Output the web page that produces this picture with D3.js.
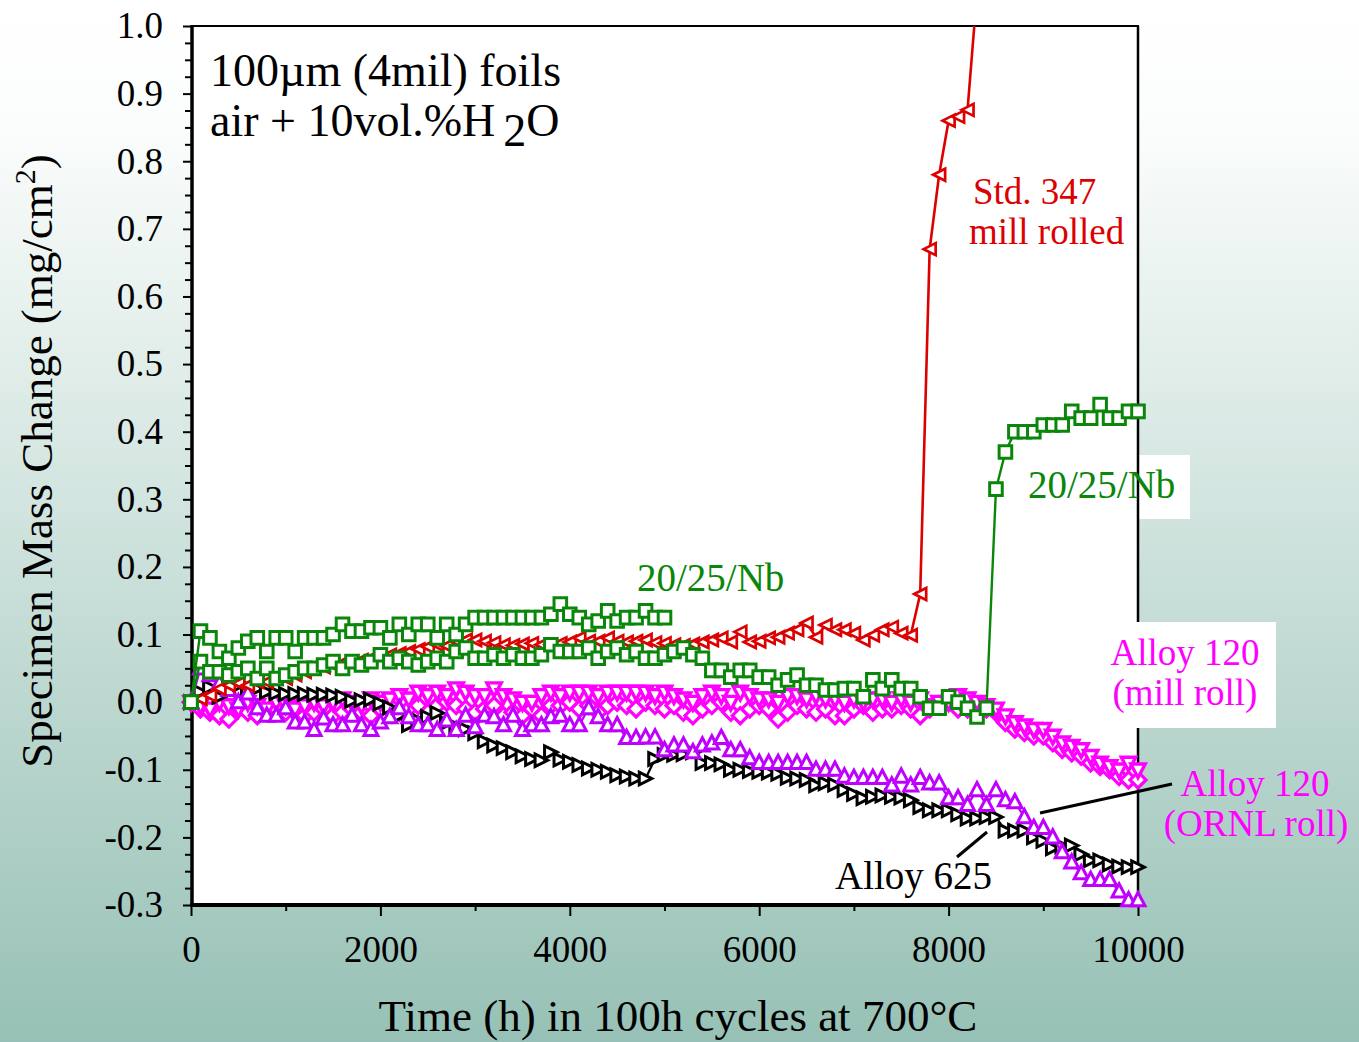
<!DOCTYPE html>
<html><head><meta charset="utf-8">
<script src="https://cdn.jsdelivr.net/npm/d3@7"></script>
<style>body{margin:0;background:#fff}svg{display:block}</style>
</head><body>
<svg id="c" width="1359" height="1042"></svg>
<script>
// ---- data: one value per 100 h cycle, starting at 0 h ----
const cycleHours = 100;
const std347 = [
0.0,0.005,0.01,0.02,0.025,0.028,0.025,0.03,0.03,0.035,
0.035,0.04,0.045,0.05,0.052,0.055,0.058,0.06,0.062,0.065,
0.067,0.07,0.072,0.075,0.078,0.082,0.085,0.083,0.09,0.092,
0.092,0.09,0.088,0.085,0.084,0.086,0.087,0.085,0.085,0.087,
0.089,0.095,0.09,0.09,0.095,0.09,0.089,0.09,0.092,0.088,
0.087,0.085,0.084,0.086,0.089,0.092,0.095,0.089,0.104,0.089,
0.09,0.095,0.096,0.102,0.107,0.117,0.096,0.114,0.107,0.107,
0.102,0.092,0.099,0.107,0.111,0.102,0.099,0.16,0.67,0.78,
0.86,0.866,0.876,1.05];
const nb2025A = [
0.0,0.105,0.095,0.075,0.065,0.08,0.09,0.095,0.075,0.095,
0.095,0.075,0.095,0.095,0.095,0.1,0.115,0.105,0.105,0.11,
0.11,0.095,0.115,0.1,0.115,0.115,0.095,0.115,0.1,0.115,
0.125,0.125,0.125,0.125,0.125,0.125,0.125,0.125,0.13,0.145,
0.13,0.125,0.115,0.12,0.135,0.12,0.125,0.125,0.135,0.125,
0.125];
const nb2025B = [
0.0,0.06,0.045,0.045,0.04,0.045,0.05,0.035,0.05,0.035,
0.04,0.045,0.05,0.05,0.055,0.06,0.05,0.06,0.055,0.06,
0.07,0.06,0.065,0.06,0.055,0.06,0.065,0.06,0.075,0.08,
0.065,0.065,0.07,0.065,0.07,0.065,0.065,0.07,0.085,0.075,
0.075,0.075,0.08,0.065,0.075,0.08,0.07,0.075,0.065,0.065,
0.07,0.075,0.08,0.07,0.065,0.047,0.047,0.037,0.047,0.047,
0.037,0.037,0.025,0.033,0.04,0.025,0.025,0.018,0.018,0.02,
0.02,0.008,0.033,0.02,0.033,0.02,0.02,0.008,-0.009,-0.009,
0.008,0.0,-0.009,-0.022,-0.009,0.315,0.37,0.4,0.4,0.4,
0.41,0.41,0.41,0.43,0.42,0.42,0.44,0.42,0.42,0.43,0.43];
const alloy625 = [
0.0,0.015,0.022,0.008,0.02,0.025,0.022,0.02,0.015,0.013,
0.012,0.012,0.012,0.011,0.011,0.01,0.008,0.002,0.003,0.004,
-0.002,-0.008,-0.02,-0.034,-0.027,-0.022,-0.016,-0.031,-0.036,-0.04,
-0.046,-0.058,-0.064,-0.068,-0.074,-0.08,-0.084,-0.086,-0.074,-0.085,
-0.088,-0.093,-0.098,-0.1,-0.103,-0.108,-0.11,-0.113,-0.113,-0.084,
-0.078,-0.078,-0.077,-0.074,-0.09,-0.09,-0.092,-0.1,-0.1,-0.102,
-0.103,-0.104,-0.106,-0.112,-0.113,-0.115,-0.123,-0.12,-0.122,-0.13,
-0.136,-0.142,-0.14,-0.138,-0.14,-0.141,-0.145,-0.155,-0.16,-0.16,
-0.16,-0.166,-0.172,-0.172,-0.17,-0.17,-0.19,-0.19,-0.19,-0.2,
-0.205,-0.216,-0.213,-0.212,-0.225,-0.234,-0.234,-0.24,-0.243,-0.244,-0.244];
const alloy120ornl = [
0.0,0.05,0.04,0.028,0.018,0.0,0.013,-0.009,-0.02,-0.02,
-0.009,-0.03,-0.03,-0.041,-0.024,-0.034,-0.034,-0.02,-0.034,-0.041,
-0.03,-0.022,-0.009,-0.022,-0.034,-0.034,-0.041,-0.027,-0.041,-0.02,
-0.037,-0.02,-0.022,-0.034,-0.02,-0.041,-0.034,-0.034,-0.022,-0.02,
-0.034,-0.034,-0.009,-0.022,-0.034,-0.034,-0.053,-0.053,-0.052,-0.052,
-0.071,-0.064,-0.064,-0.074,-0.064,-0.061,-0.053,-0.071,-0.071,-0.083,
-0.09,-0.09,-0.09,-0.09,-0.09,-0.09,-0.1,-0.1,-0.1,-0.11,
-0.112,-0.112,-0.112,-0.112,-0.123,-0.11,-0.123,-0.112,-0.12,-0.12,
-0.142,-0.142,-0.152,-0.13,-0.152,-0.13,-0.145,-0.148,-0.17,-0.186,
-0.186,-0.2,-0.222,-0.237,-0.253,-0.263,-0.263,-0.263,-0.28,-0.293,-0.293];
const alloy120millA = [
0.0,-0.005,-0.01,0.0,-0.005,-0.01,0.0,-0.005,-0.01,0.0,
-0.005,-0.01,-0.005,0.0,-0.005,0.0,0.005,0.0,-0.005,0.005,
0.0,0.005,0.01,0.005,0.015,0.01,0.015,0.01,0.02,0.015,
0.01,0.01,0.02,0.01,0.005,0.0,0.0,0.01,0.015,0.01,
0.015,0.015,0.015,0.01,0.015,0.015,0.015,0.015,0.015,0.01,
0.015,0.01,0.005,0.0,0.01,0.015,0.01,0.0,0.015,0.01,
0.005,0.005,0.0,0.01,0.01,0.005,0.01,0.005,0.005,0.0,
0.005,0.0,0.005,0.005,0.0,0.005,0.0,0.005,-0.005,0.0,
0.0,0.01,0.005,0.0,-0.005,-0.01,-0.02,-0.03,-0.035,-0.04,
-0.04,-0.05,-0.06,-0.065,-0.07,-0.08,-0.09,-0.095,-0.1,-0.09,-0.1];
const alloy120millB = [
0.0,-0.01,-0.015,-0.02,-0.025,-0.01,-0.015,-0.02,-0.015,-0.01,
-0.015,-0.01,-0.02,-0.015,-0.01,-0.02,-0.015,-0.01,-0.015,-0.02,
-0.01,-0.005,-0.015,-0.01,-0.005,-0.015,-0.005,0.0,-0.005,-0.01,
-0.015,-0.01,-0.005,-0.02,-0.015,-0.02,-0.01,-0.02,-0.005,-0.005,
0.0,-0.01,-0.005,-0.015,-0.005,0.0,-0.005,-0.01,0.0,-0.005,
-0.01,-0.005,-0.015,-0.02,-0.01,-0.005,0.0,-0.015,-0.02,-0.01,
-0.005,-0.01,-0.025,-0.015,-0.005,-0.01,-0.015,-0.01,-0.02,-0.02,
-0.01,-0.005,-0.015,-0.01,-0.01,-0.005,-0.01,-0.02,-0.01,-0.005,
0.0,-0.01,-0.01,-0.015,-0.01,-0.015,-0.03,-0.04,-0.045,-0.05,
-0.05,-0.06,-0.07,-0.075,-0.08,-0.09,-0.095,-0.1,-0.11,-0.115,-0.115];

const xTickValues = [0,1000,2000,3000,4000,5000,6000,7000,8000,9000,10000];
const xTickLabels = ["0","","2000","","4000","","6000","","8000","","10000"];
const yTickLabels = ["-0.3","-0.2","-0.1","0.0","0.1","0.2","0.3","0.4","0.5","0.6","0.7","0.8","0.9","1.0"];

// ---- drawing ----
const W = 1359, H = 1042;
const svg = d3.select("#c");
const x = d3.scaleLinear().domain([0, 10000]).range([191, 1138]);
const y = d3.scaleLinear().domain([-0.3, 1.0]).range([905, 26]);
const serif = "'Liberation Serif','Times New Roman',serif";

const defs = svg.append("defs");
const g = defs.append("linearGradient").attr("id","bg").attr("x1",0).attr("y1",0).attr("x2",0).attr("y2",1);
g.append("stop").attr("offset","0%").attr("stop-color","#ffffff");
g.append("stop").attr("offset","12%").attr("stop-color","#fbfdfc");
g.append("stop").attr("offset","100%").attr("stop-color","#97c1b6");
defs.append("clipPath").attr("id","clipTop").append("rect")
  .attr("x",0).attr("y",26).attr("width",W).attr("height",H-26);

svg.append("rect").attr("width",W).attr("height",H).attr("fill","url(#bg)");
svg.append("rect").attr("x",191).attr("y",26).attr("width",947).attr("height",879).attr("fill","#fff");

// white box behind right 20/25/Nb label
svg.append("rect").attr("x",1020).attr("y",455).attr("width",170).attr("height",64).attr("fill","#fff");

// axes
const yMajor = d3.range(-3, 11).map(k => k / 10);
const yMinor = d3.range(-12, 41).map(k => k / 40);
const yAxis = d3.axisLeft(y).tickValues(yMinor).tickSize(8).tickPadding(20)
  .tickFormat(v => { const i = yMajor.findIndex(m => Math.abs(m - v) < 1e-9); return i >= 0 ? yTickLabels[i] : ""; });
const ya = svg.append("g").attr("transform","translate(191,0)").call(yAxis);
ya.select(".domain").remove();
ya.selectAll(".tick line").attr("stroke","#000").attr("stroke-width",2)
  .attr("x2", v => yMajor.some(m => Math.abs(m - v) < 1e-9) ? -8 : -6);
ya.selectAll(".tick text").attr("font-family",serif).attr("font-size",37).attr("fill","#000");

const xAxis = d3.axisBottom(x).tickValues(xTickValues).tickSize(11).tickPadding(20)
  .tickFormat((v,i) => xTickLabels[i]);
const xa = svg.append("g").attr("transform","translate(0,905)").call(xAxis);
xa.select(".domain").remove();
xa.selectAll(".tick line").attr("stroke","#000").attr("stroke-width",2)
  .attr("y2", (v,i) => xTickLabels[i] ? 11 : 6);
xa.selectAll(".tick text").attr("font-family",serif).attr("font-size",37).attr("fill","#000");

// frame
svg.append("line").attr("x1",191).attr("x2",1139).attr("y1",26).attr("y2",26).attr("stroke","#000").attr("stroke-width",2);
svg.append("line").attr("x1",1138).attr("x2",1138).attr("y1",26).attr("y2",905).attr("stroke","#000").attr("stroke-width",2.5);
svg.append("line").attr("x1",192).attr("x2",192).attr("y1",25).attr("y2",907).attr("stroke","#000").attr("stroke-width",3.5);
svg.append("line").attr("x1",190).attr("x2",1139).attr("y1",905).attr("y2",905).attr("stroke","#000").attr("stroke-width",4);

// markers
const mk = {
  sq: r => `M${-r},${-r}H${r}V${r}H${-r}Z`,
  tl: r => `M${-r},0L${r},${-r}L${r},${r}Z`,
  tr: r => `M${r},0L${-r},${-r}L${-r},${r}Z`,
  tu: r => `M0,${-r*1.1}L${r},${r*0.8}L${-r},${r*0.8}Z`,
  td: r => `M0,${r*1.1}L${r},${-r*0.8}L${-r},${-r*0.8}Z`,
  dm: r => `M0,${-r}L${r},0L0,${r}L${-r},0Z`
};
const series = [
  {vals: alloy120millB, color:"#ff00ff", m:"dm", r:8, sw:3.2, lw:2.2},
  {vals: alloy120millA, color:"#ff00ff", m:"td", r:7.2, sw:3.4, lw:2.2},
  {vals: alloy625, color:"#000000", m:"tr", r:6.3, sw:3, lw:2.2},
  {vals: alloy120ornl, color:"#bf00ff", m:"tu", r:7, sw:3, lw:2.2},
  {vals: std347, color:"#dd0000", m:"tl", r:6, sw:2.7, lw:2.6},
  {vals: nb2025B, color:"#0a870a", m:"sq", r:6.3, sw:3, lw:2.4},
  {vals: nb2025A, color:"#0a870a", m:"sq", r:6.3, sw:3, lw:2.4}
];
const line = d3.line().x(d => x(d.t)).y(d => y(d.v));
const dataG = svg.append("g").attr("clip-path","url(#clipTop)");
series.forEach(s => {
  const pts = s.vals.map((v,i) => ({t: i*cycleHours, v}));
  const sg = dataG.append("g");
  sg.append("path").attr("d", line(pts)).attr("fill","none").attr("stroke", s.color).attr("stroke-width",s.lw);
  sg.selectAll("path.m").data(pts).enter().append("path").attr("class","m")
    .attr("transform", d => `translate(${x(d.t)},${y(d.v)})`)
    .attr("d", mk[s.m](s.r)).attr("fill","#fff").attr("stroke", s.color).attr("stroke-width", s.sw)
    .attr("stroke-linejoin","miter");
});

// white box behind mill roll label (interrupts frame)
svg.append("rect").attr("x",1100).attr("y",622).attr("width",176).attr("height",106).attr("fill","#fff");

// leader lines
svg.append("line").attr("x1",1040).attr("y1",813).attr("x2",1172).attr("y2",784).attr("stroke","#000").attr("stroke-width",3);
svg.append("line").attr("x1",957).attr("y1",857).attr("x2",987).attr("y2",832).attr("stroke","#000").attr("stroke-width",3);

// texts
function txt(t, xx, yy, color, size, anchor) {
  return svg.append("text").attr("x",xx).attr("y",yy).attr("fill",color).attr("font-family",serif)
    .attr("font-size",size).attr("text-anchor",anchor||"start").text(t);
}
txt("100µm (4mil) foils", 210, 86, "#000", 46);
const t2 = txt("air + 10vol.%H", 210, 136, "#000", 46);
t2.append("tspan").attr("dx",8).attr("dy",10).text("2");
t2.append("tspan").attr("dy",-10).text("O");

txt("Std. 347", 973, 204, "#dd0000", 37);
txt("mill rolled", 969, 244, "#dd0000", 37);
txt("20/25/Nb", 637, 591, "#0a870a", 39);
txt("20/25/Nb", 1028, 498, "#0a870a", 39);
txt("Alloy 120", 1185, 665, "#ff00ff", 37, "middle");
txt("(mill roll)", 1185, 705, "#ff00ff", 37, "middle");
txt("Alloy 120", 1255, 796, "#ff00ff", 37, "middle");
txt("(ORNL roll)", 1256, 836, "#ff00ff", 37, "middle");
txt("Alloy 625", 835, 889, "#000", 39);

txt("Time (h) in 100h cycles at 700°C", 678, 1031, "#000", 45, "middle");
const yl = svg.append("text").attr("transform","translate(52,461) rotate(-90)").attr("text-anchor","middle")
  .attr("font-family",serif).attr("font-size",45).attr("fill","#000").text("Specimen Mass Change (mg/cm");
yl.append("tspan").attr("dy",-17).attr("font-size",30).text("2");
yl.append("tspan").attr("dy",17).text(")");
</script>
</body></html>
